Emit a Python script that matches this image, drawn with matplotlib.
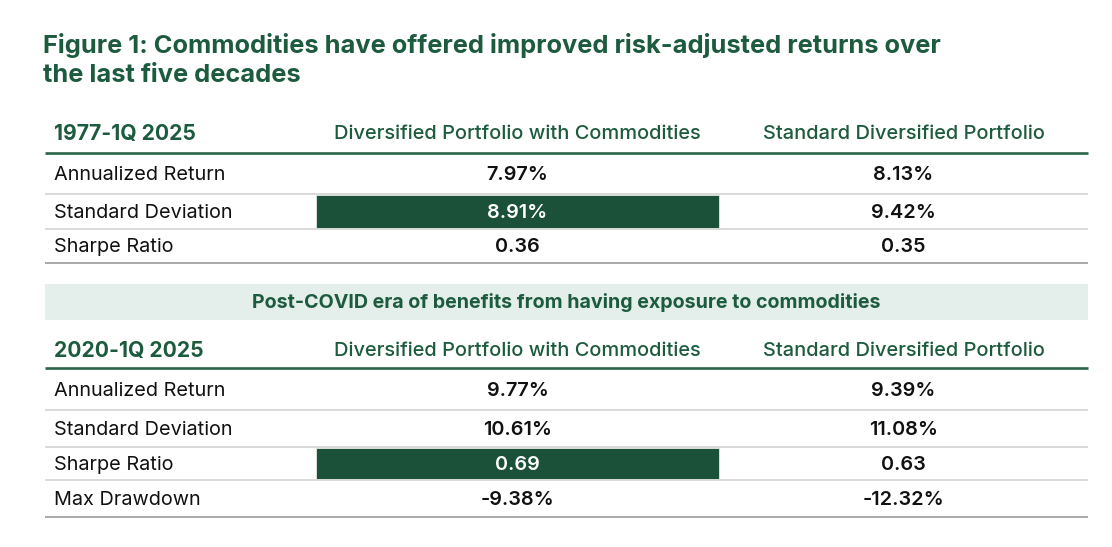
import matplotlib.pyplot as plt

plt.rcParams["font.family"] = ["Inter", "DejaVu Sans"]

GREEN = '#1d5b3e'
BOX = '#1b5039'
BAND = '#e4eeea'

TITLE = ['Figure 1: Commodities have offered improved risk-adjusted returns over',
         'the last five decades']
COLUMNS = ['Diversified Portfolio with Commodities', 'Standard Diversified Portfolio']
BAND_TEXT = 'Post-COVID era of benefits from having exposure to commodities'

period_1 = '1977-1Q 2025'
labels_1 = ['Annualized Return', 'Standard Deviation', 'Sharpe Ratio']
with_comm_1 = ['7.97%', '8.91%', '0.36']
standard_1 = ['8.13%', '9.42%', '0.35']
highlight_1 = 1

period_2 = '2020-1Q 2025'
labels_2 = ['Annualized Return', 'Standard Deviation', 'Sharpe Ratio', 'Max Drawdown']
with_comm_2 = ['9.77%', '10.61%', '0.69', '-9.38%']
standard_2 = ['9.39%', '11.08%', '0.63', '-12.32%']
highlight_2 = 2

# layout in pixels
W, H = 1112, 547
X0, X1 = 45, 1088
COL_EDGES = [X0, 316, 719, X1]
FS = 14.3


def draw_section(ax, period, labels, col_a, col_b, highlight, head_y, lines):
    # header row
    ax.text(54, head_y, period, color=GREEN, fontsize=15.2, fontweight='bold', va='center')
    for i, name in enumerate(COLUMNS):
        cx = (COL_EDGES[i + 1] + COL_EDGES[i + 2]) / 2
        ax.text(cx, head_y, name, color=GREEN, fontsize=14.4, fontweight='medium',
                ha='center', va='center')
    ax.plot([X0, X1], [lines[0], lines[0]], color='#2a6347', lw=1.9, solid_capstyle='butt')
    for r, lab in enumerate(labels):
        top, bot = lines[r], lines[r + 1]
        cy = (top + bot) / 2 + 1.5
        if r == highlight:
            ax.add_patch(plt.Rectangle((COL_EDGES[1], top + 1), COL_EDGES[2] - COL_EDGES[1],
                                       bot - top - 2, facecolor=BOX, edgecolor='#e6e9e7', lw=0.6))
        ax.text(54, cy, lab, color='#111111', fontsize=FS, va='center')
        for i, val in enumerate([col_a[r], col_b[r]]):
            cx = (COL_EDGES[i + 1] + COL_EDGES[i + 2]) / 2
            col = 'white' if (r == highlight and i == 0) else '#111111'
            ax.text(cx, cy, val, color=col, fontsize=FS, fontweight='semibold',
                    ha='center', va='center')
        last = r == len(labels) - 1
        ax.plot([X0, X1], [bot, bot], color='#a9a9a9' if last else '#d9d9d9',
                lw=1.4, solid_capstyle='butt', zorder=0)


fig = plt.figure(figsize=(W / 100, H / 100), dpi=100)
ax = fig.add_axes([0, 0, 1, 1])
ax.set_xlim(0, W)
ax.set_ylim(H, 0)
ax.axis('off')

ax.text(43, 53, TITLE[0], color=GREEN, fontsize=18.3, fontweight='bold', va='baseline')
ax.text(43, 82, TITLE[1], color=GREEN, fontsize=18.3, fontweight='bold', va='baseline')

draw_section(ax, period_1, labels_1, with_comm_1, standard_1, highlight_1,
             134, [153, 194, 229, 263])

ax.add_patch(plt.Rectangle((X0, 284), X1 - X0, 36, facecolor=BAND, edgecolor='none'))
ax.text((X0 + X1) / 2, 303, BAND_TEXT, color=GREEN, fontsize=14.15, fontweight='bold',
        ha='center', va='center')

draw_section(ax, period_2, labels_2, with_comm_2, standard_2, highlight_2,
             351, [368, 410, 447, 480, 517])

fig.savefig('out.png', dpi=100)
